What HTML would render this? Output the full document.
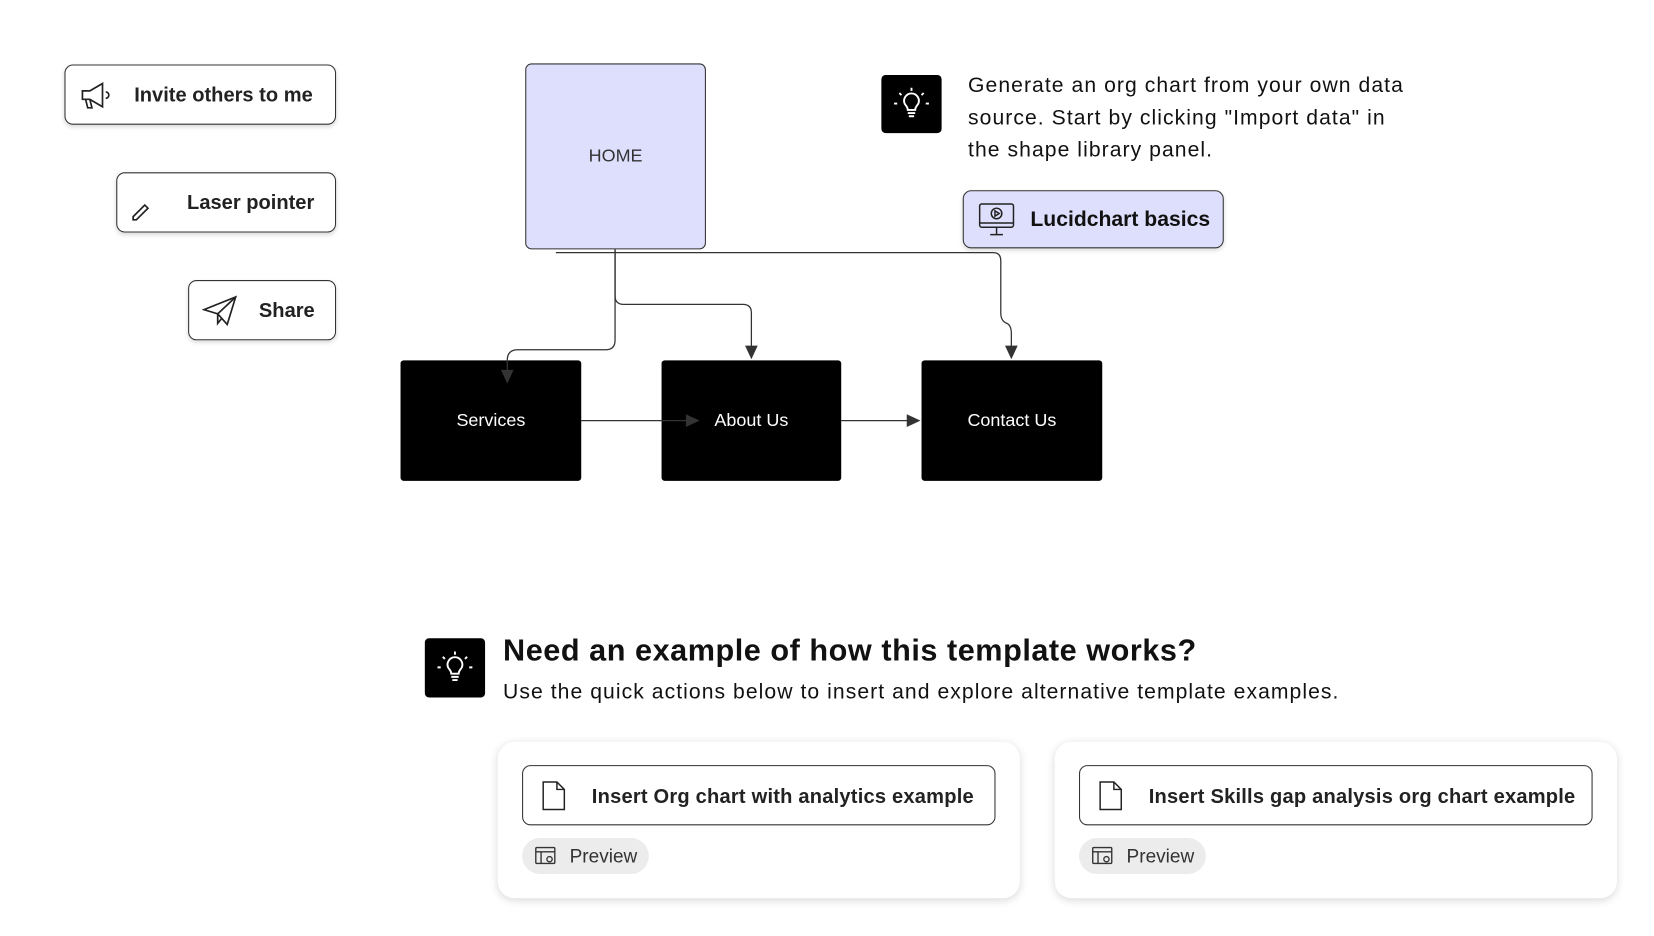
<!DOCTYPE html>
<html><head><style>
body{margin:0;width:1654px;height:936px;background:#fff;font-family:"Liberation Sans",sans-serif;position:relative;overflow:hidden;color:#111}
#w{position:absolute;left:0;top:0;width:1565px;height:886px;transform:scale(1.0568);transform-origin:0 0}
.a{position:absolute;box-sizing:border-box}
.btn{border:1px solid #333;border-radius:8px;background:#fff;box-shadow:0 2px 4px rgba(0,0,0,.15);font-weight:bold;font-size:19px;color:#222}
.blk{background:#000;color:#fff;font-size:17px;display:flex;align-items:center;justify-content:center;border-radius:3px}
.card{background:#fff;border-radius:16px;box-shadow:0 2px 8px rgba(0,0,0,.15)}
.pill{background:#ececec;border-radius:17px;font-size:18px;color:#333}
</style></head><body><div id="w">
<div class="a btn" style="left:61px;top:61px;width:257px;height:57px"><span class="a" style="left:65px;top:18px">Invite others to me</span>
<svg class="a" style="left:12px;top:14px" width="32" height="30" viewBox="0 0 32 30" fill="none" stroke="#222" stroke-width="1.6"><path d="M4 10h7l12-7v22l-12-7H4z"/><path d="M7 18l2 8h4l-2-8"/><path d="M26 11a3 3 0 0 1 0 6"/></svg></div>
<div class="a btn" style="left:110px;top:163px;width:208px;height:57px"><span class="a" style="left:66px;top:18px">Laser pointer</span>
<svg class="a" style="left:12px;top:24px" width="22" height="22" viewBox="0 0 22 22" fill="none" stroke="#222" stroke-width="1.6"><path d="M3 17l11-11 3 3-11 11H3z"/></svg></div>
<div class="a btn" style="left:178px;top:265px;width:140px;height:57px"><span class="a" style="left:66px;top:18px">Share</span>
<svg class="a" style="left:12px;top:13px" width="34" height="30" viewBox="0 0 34 30" fill="none" stroke="#222" stroke-width="1.6"><path d="M2 14L32 2 24 28 15 18z"/><path d="M15 18L32 2"/><path d="M15 18v9l4-5"/></svg></div>

<div class="a" style="left:497px;top:60px;width:171px;height:176px;background:#dedffc;border:1px solid #333;border-radius:6px;display:flex;align-items:center;justify-content:center;font-size:17px;color:#333">HOME</div>

<div class="a" style="left:834px;top:71px;width:57px;height:55px;background:#000;border-radius:4px">
<svg width="57" height="55" viewBox="0 0 57 55" fill="none" stroke="#fff" stroke-width="1.8"><path d="M22 27a7 7 0 1 1 13 0c-1 2-3 3-3 6h-7c0-3-2-4-3-6z"/><path d="M25 36h7M26 39h5"/><path d="M28.5 12v3M17 17l2 2M40 17l-2 2M12 27h3M42 27h3"/></svg></div>
<div class="a" style="left:916px;top:66px;font-size:20px;line-height:30.5px;color:#111;width:425px;letter-spacing:1px">Generate an org chart from your own data source. Start by clicking "Import data" in the shape library panel.</div>
<div class="a btn" style="left:911px;top:180px;width:247px;height:55px;background:#dedffc;font-size:20px;color:#111"><span class="a" style="left:63px;top:16px">Lucidchart basics</span>
<svg class="a" style="left:13px;top:10px" width="36" height="34" viewBox="0 0 36 34" fill="none" stroke="#222" stroke-width="1.4"><rect x="2" y="2" width="32" height="22" rx="2"/><circle cx="18" cy="11" r="5"/><path d="M16.5 8.5v5l4-2.5z"/><path d="M18 24v7M12 31h12M2 20h32"/></svg></div>

<div class="a blk" style="left:379px;top:341px;width:171px;height:114px">Services</div>
<div class="a blk" style="left:626px;top:341px;width:170px;height:114px">About Us</div>
<div class="a blk" style="left:872px;top:341px;width:171px;height:114px">Contact Us</div>

<svg class="a" style="left:0;top:0" width="1565" height="886" fill="none" stroke="#333" stroke-width="1.2">
<path d="M582 236V322q0 9-9 9H490q-10 0-10 10V352"/>
<path d="M582 236V280q0 8 8 8H703q8 0 8 8V330"/>
<path d="M526 239H940q7 0 7 8V296q0 8 6 10q4 2 4 10V330"/>
<path d="M550 398H650"/><path d="M796 398H860"/>
<g fill="#333" stroke="none">
<path d="M474 350l6 13 6-13z"/><path d="M705 327l6 13 6-13z"/><path d="M951 327l6 13 6-13z"/>
<path d="M649 392l13 6-13 6z"/><path d="M858 392l13 6-13 6z"/></g></svg>

<div class="a" style="left:402px;top:604px;width:57px;height:56px;background:#000;border-radius:4px">
<svg width="57" height="56" viewBox="0 0 57 55" fill="none" stroke="#fff" stroke-width="1.8"><path d="M22 27a7 7 0 1 1 13 0c-1 2-3 3-3 6h-7c0-3-2-4-3-6z"/><path d="M25 36h7M26 39h5"/><path d="M28.5 12v3M17 17l2 2M40 17l-2 2M12 27h3M42 27h3"/></svg></div>
<div class="a" style="left:476px;top:600px;font-size:29px;font-weight:bold;color:#111;letter-spacing:0.5px">Need an example of how this template works?</div>
<div class="a" style="left:476px;top:644px;font-size:20px;color:#111;letter-spacing:1px">Use the quick actions below to insert and explore alternative template examples.</div>

<div class="a card" style="left:471px;top:702px;width:494px;height:148px"></div>
<div class="a card" style="left:998px;top:702px;width:532px;height:148px"></div>
<div class="a btn" style="left:494px;top:724px;width:448px;height:57px;box-shadow:none"><span class="a" style="left:65px;top:19px;letter-spacing:0.2px">Insert Org chart with analytics example</span>
<svg class="a" style="left:16px;top:13px" width="26" height="30" viewBox="0 0 26 30" fill="none" stroke="#222" stroke-width="1.4"><path d="M3 2h13l7 7v19H3z"/><path d="M16 2v7h7"/></svg></div>
<div class="a btn" style="left:1021px;top:724px;width:486px;height:57px;box-shadow:none"><span class="a" style="left:65px;top:19px;letter-spacing:0.2px">Insert Skills gap analysis org chart example</span>
<svg class="a" style="left:16px;top:13px" width="26" height="30" viewBox="0 0 26 30" fill="none" stroke="#222" stroke-width="1.4"><path d="M3 2h13l7 7v19H3z"/><path d="M16 2v7h7"/></svg></div>
<div class="a pill" style="left:494px;top:793px;width:120px;height:34px"><span class="a" style="left:45px;top:7px">Preview</span>
<svg class="a" style="left:12px;top:8px" width="22" height="18" viewBox="0 0 22 18" fill="none" stroke="#333" stroke-width="1.3"><rect x="1" y="1" width="18" height="15" rx="1"/><path d="M1 5h18M6 5v11"/><circle cx="14" cy="12" r="2.5"/></svg></div>
<div class="a pill" style="left:1021px;top:793px;width:120px;height:34px"><span class="a" style="left:45px;top:7px">Preview</span>
<svg class="a" style="left:12px;top:8px" width="22" height="18" viewBox="0 0 22 18" fill="none" stroke="#333" stroke-width="1.3"><rect x="1" y="1" width="18" height="15" rx="1"/><path d="M1 5h18M6 5v11"/><circle cx="14" cy="12" r="2.5"/></svg></div>
</div></body></html>
